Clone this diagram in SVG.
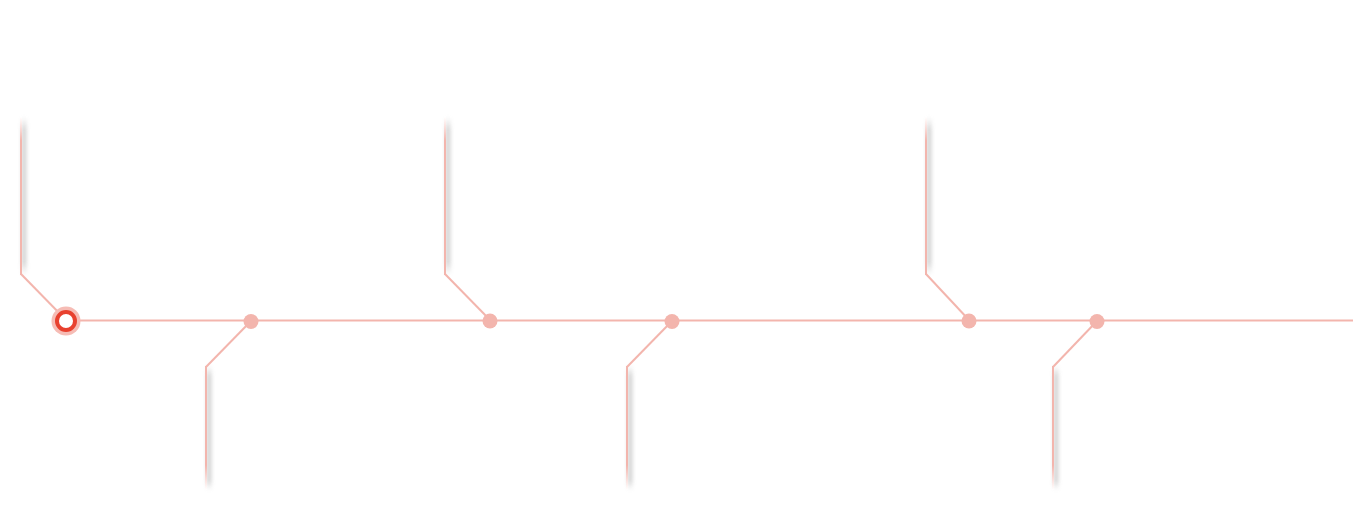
<svg xmlns="http://www.w3.org/2000/svg" width="1355" height="522" viewBox="0 0 1355 522">
  <defs>
    <style>
      .conn { stroke: #f3b5ad; stroke-width: 2; fill: none; }
      .dot { fill: #f3b5ad; }
      .shadow { fill: #b8b8b8; filter: url(#blur); opacity: 0.75; }
    </style>
    <linearGradient id="fadeUp" x1="0" y1="0" x2="0" y2="1">
      <stop offset="0" stop-color="#ffffff"/>
      <stop offset="0.15" stop-color="#f3b5ad"/>
      <stop offset="1" stop-color="#f3b5ad"/>
    </linearGradient>
    <linearGradient id="fadeDown" x1="0" y1="0" x2="0" y2="1">
      <stop offset="0" stop-color="#f3b5ad"/>
      <stop offset="0.8" stop-color="#f3b5ad"/>
      <stop offset="1" stop-color="#ffffff"/>
    </linearGradient>
    <linearGradient id="shadowGrad" x1="0" y1="0" x2="0" y2="1">
      <stop offset="0" stop-color="#b8b8b8" stop-opacity="0"/>
      <stop offset="0.08" stop-color="#b8b8b8" stop-opacity="1"/>
      <stop offset="0.92" stop-color="#b8b8b8" stop-opacity="1"/>
      <stop offset="1" stop-color="#b8b8b8" stop-opacity="0"/>
    </linearGradient>
    <filter id="blur" x="-200%" y="-10%" width="500%" height="120%">
      <feGaussianBlur stdDeviation="2"/>
    </filter>
  </defs>
  <rect width="1355" height="522" fill="#ffffff"/>

  <g id="connectors">
    <line class="conn" x1="66" y1="320.5" x2="1353" y2="320.5"/>
    <!-- up branches -->
    <rect class="shadow" x="22" y="117" width="4" height="158" style="fill:url(#shadowGrad)"/>
    <rect x="20" y="117" width="2" height="158" fill="url(#fadeUp)"/>
    <polyline class="conn" points="21,274 66,320"/>

    <rect class="shadow" x="446" y="117" width="4" height="158" style="fill:url(#shadowGrad)"/>
    <rect x="444" y="117" width="2" height="158" fill="url(#fadeUp)"/>
    <polyline class="conn" points="445,274 490,320"/>

    <rect class="shadow" x="927" y="117" width="4" height="158" style="fill:url(#shadowGrad)"/>
    <rect x="925" y="117" width="2" height="158" fill="url(#fadeUp)"/>
    <polyline class="conn" points="926,274 969,320"/>

    <!-- down branches -->
    <rect class="shadow" x="207" y="366" width="4" height="124" style="fill:url(#shadowGrad)"/>
    <rect x="205" y="366" width="2" height="124" fill="url(#fadeDown)"/>
    <polyline class="conn" points="206,367 251,321"/>

    <rect class="shadow" x="628" y="366" width="4" height="124" style="fill:url(#shadowGrad)"/>
    <rect x="626" y="366" width="2" height="124" fill="url(#fadeDown)"/>
    <polyline class="conn" points="627,367 672,321"/>

    <rect class="shadow" x="1054" y="366" width="4" height="124" style="fill:url(#shadowGrad)"/>
    <rect x="1052" y="366" width="2" height="124" fill="url(#fadeDown)"/>
    <polyline class="conn" points="1053,367 1097,321"/>
  </g>

  <g id="node-start">
    <circle cx="66" cy="321" r="14.5" fill="#f6bcb5"/>
    <circle cx="66" cy="321" r="9" fill="#ffffff" stroke="#e8412f" stroke-width="4"/>
  </g>
  <g id="node-1"><circle class="dot" cx="251" cy="321.5" r="7.5"/></g>
  <g id="node-2"><circle class="dot" cx="490" cy="321" r="7.5"/></g>
  <g id="node-3"><circle class="dot" cx="672" cy="321.5" r="7.5"/></g>
  <g id="node-4"><circle class="dot" cx="969" cy="321" r="7.5"/></g>
  <g id="node-5"><circle class="dot" cx="1097" cy="321.5" r="7.5"/></g>
</svg>
